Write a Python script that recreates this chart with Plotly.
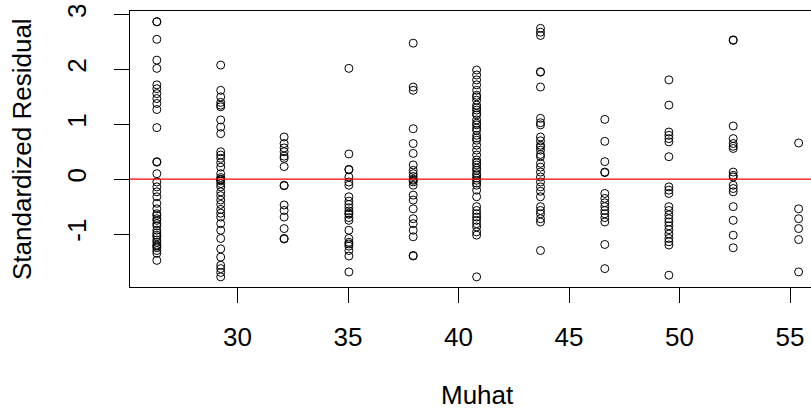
import plotly.graph_objects as go

# Fitted values (Muhat) – one column of points per level
muhat_levels = [26.35, 29.24, 32.11, 35.04, 37.95, 40.82, 43.71, 46.62, 49.52, 52.43, 55.39]

# Standardized residuals read per column
res_26 = [2.87, 2.87, 2.55, 2.17, 2.02, 1.72, 1.65, 1.56, 1.47, 1.38, 1.27, 0.94,
          0.32, 0.31, 0.10, -0.05, -0.14, -0.23, -0.32, -0.44, -0.54, -0.63, -0.66,
          -0.72, -0.75, -0.81, -0.85, -0.93, -0.98, -1.02, -1.05, -1.11, -1.15,
          -1.20, -1.22, -1.25, -1.30, -1.35, -1.48]
res_29 = [2.08, 1.62, 1.50, 1.40, 1.35, 1.32, 1.08, 0.95, 0.83, 0.50, 0.44, 0.38,
          0.30, 0.22, 0.10, 0.03, 0.00, -0.01, -0.03, -0.08, -0.14, -0.23, -0.30,
          -0.38, -0.46, -0.55, -0.62, -0.69, -0.81, -0.93, -1.08, -1.27, -1.42,
          -1.57, -1.63, -1.70, -1.78]
res_32 = [0.77, 0.65, 0.57, 0.50, 0.42, 0.38, 0.23, -0.11, -0.12, -0.47, -0.57,
          -0.69, -0.90, -1.08, -1.09]
res_35 = [2.02, 0.46, 0.18, 0.17, 0.04, -0.05, -0.11, -0.32, -0.40, -0.46, -0.52,
          -0.58, -0.62, -0.64, -0.70, -0.75, -0.93, -1.08, -1.15, -1.18, -1.22,
          -1.30, -1.40, -1.69]
res_38 = [2.48, 1.68, 1.62, 0.92, 0.65, 0.47, 0.26, 0.16, 0.10, 0.05, 0.00, -0.02,
          -0.05, -0.11, -0.29, -0.38, -0.54, -0.72, -0.81, -0.93, -1.05, -1.39,
          -1.40]
res_41 = [1.99, 1.90, 1.81, 1.72, 1.62, 1.53, 1.50, 1.44, 1.35, 1.30, 1.26, 1.20,
          1.17, 1.08, 1.02, 0.99, 0.93, 0.89, 0.80, 0.75, 0.71, 0.62, 0.53, 0.44,
          0.35, 0.30, 0.26, 0.20, 0.16, 0.10, 0.07, 0.02, -0.02, -0.07, -0.11,
          -0.20, -0.32, -0.50, -0.57, -0.63, -0.69, -0.75, -0.81, -0.87, -0.96,
          -1.02, -1.78]
res_44 = [2.75, 2.68, 2.62, 1.96, 1.95, 1.68, 1.11, 1.03, 0.99, 0.77, 0.70, 0.62,
          0.59, 0.53, 0.45, 0.41, 0.29, 0.22, 0.13, 0.04, -0.05, -0.14, -0.22,
          -0.32, -0.50, -0.57, -0.63, -0.72, -0.78, -1.30]
res_47 = [1.09, 0.69, 0.32, 0.13, 0.12, -0.26, -0.35, -0.43, -0.50, -0.57, -0.63,
          -0.70, -0.78, -1.19, -1.63]
res_50 = [1.81, 1.35, 0.86, 0.80, 0.74, 0.68, 0.41, -0.14, -0.20, -0.26, -0.50,
          -0.57, -0.65, -0.72, -0.78, -0.85, -0.92, -1.00, -1.08, -1.14, -1.20,
          -1.75]
res_52 = [2.54, 2.53, 0.97, 0.74, 0.65, 0.60, 0.56, 0.13, 0.07, 0.04, -0.11,
          -0.17, -0.23, -0.50, -0.75, -1.02, -1.25]
res_55 = [0.66, -0.54, -0.72, -0.90, -1.10, -1.69]

residual_columns = [res_26, res_29, res_32, res_35, res_38, res_41, res_44,
                    res_47, res_50, res_52, res_55]

x_ticks = [30, 35, 40, 45, 50, 55]
y_ticks = [-1, 0, 1, 2, 3]

xs, ys = [], []
for m, col in zip(muhat_levels, residual_columns):
    for r in col:
        xs.append(m)
        ys.append(r)

FONT = "Liberation Sans, Arial, sans-serif"
FS = 26

fig = go.Figure()
fig.add_trace(go.Scatter(
    x=xs, y=ys, mode="markers",
    marker=dict(symbol="circle-open", size=8, color="black", line=dict(width=1)),
    showlegend=False, hoverinfo="x+y",
))

fig.add_hline(y=0, line=dict(color="#ff0000", width=1.2))

fig.update_layout(
    width=811, height=418,
    margin=dict(l=130, r=0, t=11, b=131),
    paper_bgcolor="white", plot_bgcolor="white",
    font=dict(family=FONT, size=FS, color="black"),
    xaxis=dict(
        range=[25.136, 55.95], tickvals=x_ticks, ticktext=[str(v) for v in x_ticks],
        showgrid=False, zeroline=False,
        showline=True, mirror=True, linecolor="black", linewidth=1,
        ticks="outside", ticklen=15, tickwidth=1, tickcolor="black",
        ticklabelstandoff=12,
        tickfont=dict(family=FONT, size=FS, color="black"),
    ),
    yaxis=dict(
        range=[-1.965, 3.066], tickvals=y_ticks, ticktext=[str(v) for v in y_ticks],
        showgrid=False, zeroline=False,
        showline=True, mirror=False, linecolor="black", linewidth=1,
        ticks="outside", ticklen=15, tickwidth=1, tickcolor="black",
        tickangle=-90, ticklabelstandoff=18,
        tickfont=dict(family=FONT, size=FS, color="black"),
    ),
    annotations=[
        dict(text="Muhat", xref="paper", yref="paper",
             x=(477 - 130) / 681, y=-(395 - 287) / 276,
             xanchor="center", yanchor="middle", showarrow=False,
             font=dict(family=FONT, size=FS, color="black")),
        dict(text="Standardized Residual", xref="paper", yref="paper",
             x=(22 - 130) / 681, y=0.5, textangle=-90,
             xanchor="center", yanchor="middle", showarrow=False,
             font=dict(family=FONT, size=FS, color="black")),
    ],
)

fig.write_html("out.html")
